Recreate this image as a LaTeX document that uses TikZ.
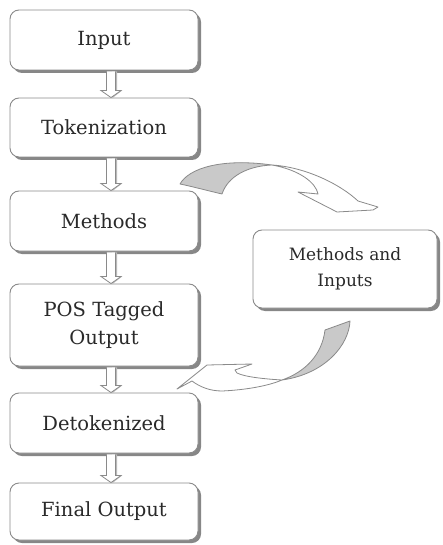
\documentclass[tikz,border=0pt]{standalone}
\usepackage{fontspec}
\setmainfont{DejaVu Serif}
\usetikzlibrary{calc,shadows}
\definecolor{edgegray}{HTML}{8A8A8A}
\definecolor{shadgray}{HTML}{7A7A7A}
\definecolor{bandgray}{HTML}{C9C9C9}
\definecolor{txt}{HTML}{2A2A2A}
\tikzset{
  box/.style={draw=edgegray, line width=0.9pt, rounded corners=9pt, fill=white,
    minimum width=188pt, text=txt, align=center, inner sep=0pt,
    font=\fontsize{19.5}{28}\selectfont,
    drop shadow={shadow xshift=3pt, shadow yshift=-3pt, fill=shadgray, opacity=0.9}},
  sidebox/.style={box, minimum width=184pt, font=\fontsize{17}{26}\selectfont},
  hollow/.style={draw=edgegray, line width=0.8pt, fill=white, line join=miter},
  hollowshade/.style={fill=gray!55},
  band/.style={draw=edgegray, line width=0.8pt, fill=bandgray, line join=round},
  ribbon/.style={draw=edgegray, line width=0.8pt, fill=white, line join=round}
}
\begin{document}
\begin{tikzpicture}[x=1pt,y=-1pt]
\useasboundingbox (0,0) rectangle (442,545);
\node[box, minimum height=60pt] (input) at (104,40) {Input};
\node[box, minimum height=59pt] (tok) at (104,127.5) {Tokenization};
\node[box, minimum height=60pt] (meth) at (104,221) {Methods};
\node[box, minimum height=82pt] (pos) at (104,325) {POS Tagged\\Output};
\node[box, minimum height=60pt] (detok) at (104,423) {Detokenized};
\node[box, minimum height=57pt] (final) at (104,511.5) {Final Output};
\node[sidebox, minimum height=78pt] (mi) at (345,269) {Methods and\\Inputs};

\foreach \a/\b in {input/tok, tok/meth, meth/pos, pos/detok, detok/final} {
  \path ($(\a.south)+(7,1)$) coordinate (s) ($(\b.north)+(7,0)$) coordinate (e);
  \fill[hollowshade] ($(s)+(1,0)$) -- ($(s)+(6,0)$) -- ($(e)+(6,-7)$) -- ($(e)+(11,-7)$) -- ($(e)+(1.5,0.5)$) -- cycle;
  \draw[hollow] ($(s)+(-4.5,0)$) -- ($(e)+(-4.5,-7)$) -- ($(e)+(-10,-7)$) -- (e)
    -- ($(e)+(10,-7)$) -- ($(e)+(4.5,-7)$) -- ($(s)+(4.5,0)$);
}

% top curved arrow (Methods -> Methods and Inputs)
\coordinate (t1) at (272,165);
\draw[band] (180,184) .. controls (189,168) and (222,158) .. (t1)
  .. controls (248,166) and (228,176) .. (222,194)
  .. controls (205,190) and (190,186) .. cycle;
\draw[ribbon] (t1) .. controls (305,167) and (340,184) .. (358,201)
  -- (378,207) -- (373,210) -- (337,212) -- (298,192) -- (318,194)
  .. controls (316,183) and (300,170) .. cycle;

% bottom curved arrow (Methods and Inputs -> Detokenized)
\coordinate (t2) at (282,380);
\draw[band] (325,330) -- (350,321)
  .. controls (349,345) and (325,374) .. (t2)
  .. controls (305,372) and (322,355) .. cycle;
\draw[ribbon] (t2) .. controls (265,379) and (245,377) .. (237,373)
  -- (235,370) -- (252,364) -- (207,365) -- (177,389) -- (192,381)
  .. controls (200,387) and (210,391) .. (222,391)
  .. controls (245,390) and (268,386) .. cycle;
\end{tikzpicture}
\end{document}
